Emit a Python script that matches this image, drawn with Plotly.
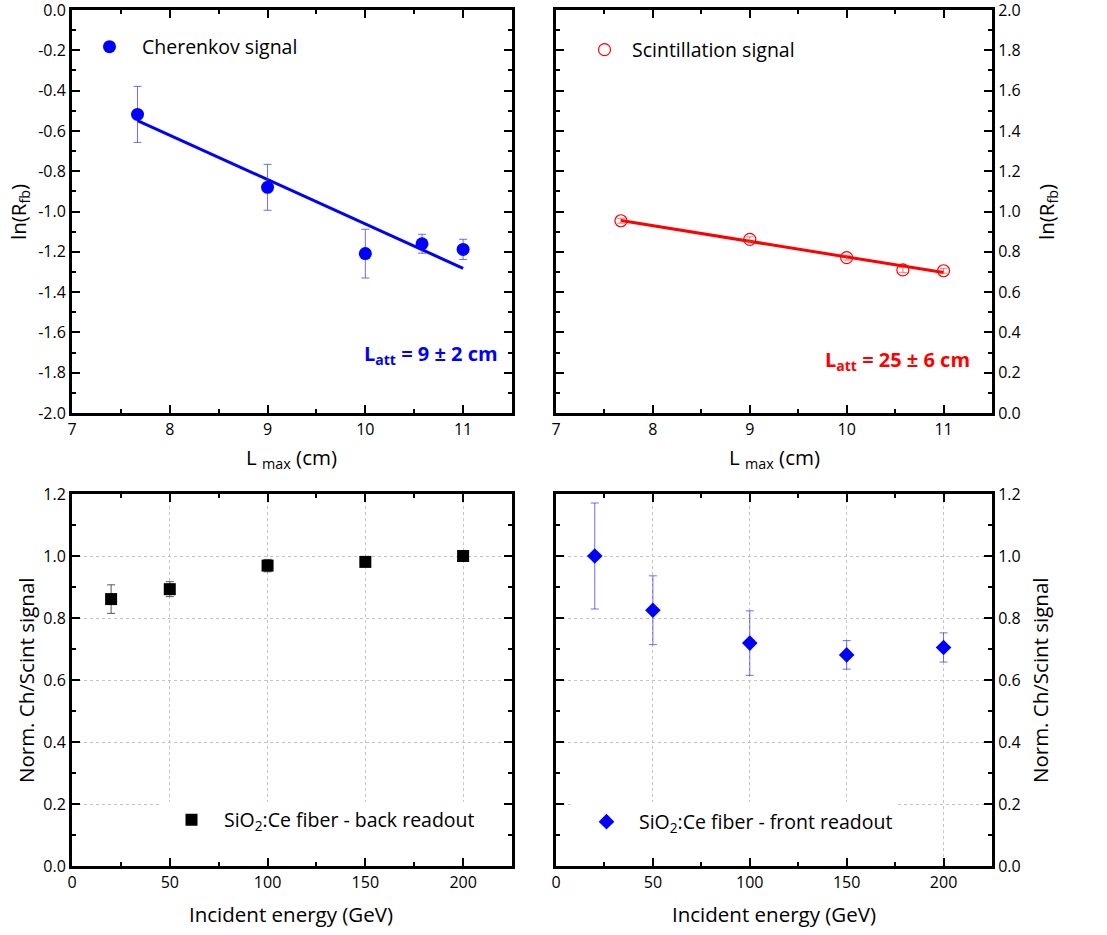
import plotly.graph_objects as go

# ---------------- data ----------------
# Top-left: Cherenkov signal
cher_L = [7.67, 9.0, 10.0, 10.58, 11.0]
cher_ln = [-0.518, -0.880, -1.209, -1.160, -1.188]
cher_err = [0.139, 0.114, 0.121, 0.047, 0.050]
cher_fit_L = [7.67, 11.0]
cher_fit_ln = [-0.549, -1.282]

# Top-right: Scintillation signal
scint_L = [7.67, 9.0, 10.0, 10.58, 11.0]
scint_ln = [0.954, 0.862, 0.771, 0.710, 0.706]
scint_err = [0.012, 0.012, 0.012, 0.012, 0.012]
scint_fit_L = [7.67, 11.0]
scint_fit_ln = [0.955, 0.697]

# Bottom: normalized Ch/Scint vs energy
energy = [20, 50, 100, 150, 200]
back_ratio = [0.861, 0.893, 0.969, 0.981, 1.000]
back_err = [0.046, 0.024, 0.020, 0.010, 0.008]
front_ratio = [1.000, 0.825, 0.719, 0.681, 0.705]
front_err = [0.171, 0.111, 0.104, 0.046, 0.047]

# tick labels
L_ticks = [7, 8, 9, 10, 11]
L_ticktext = ["7", "8", "9", "10", "11"]
lnL_vals = [0.0, -0.2, -0.4, -0.6, -0.8, -1.0, -1.2, -1.4, -1.6, -1.8, -2.0]
lnL_text = ["0.0", "-0.2", "-0.4", "-0.6", "-0.8", "-1.0", "-1.2", "-1.4", "-1.6", "-1.8", "-2.0"]
lnR_vals = [0.0, 0.2, 0.4, 0.6, 0.8, 1.0, 1.2, 1.4, 1.6, 1.8, 2.0]
lnR_text = ["0.0", "0.2", "0.4", "0.6", "0.8", "1.0", "1.2", "1.4", "1.6", "1.8", "2.0"]
E_ticks = [0, 50, 100, 150, 200]
E_ticktext = ["0", "50", "100", "150", "200"]
norm_vals = [0.0, 0.2, 0.4, 0.6, 0.8, 1.0, 1.2]
norm_text = ["0.0", "0.2", "0.4", "0.6", "0.8", "1.0", "1.2"]

FONT = "Open Sans"
W, H = 1107, 935

fig = go.Figure()

# Cherenkov
fig.add_trace(go.Scatter(
    x=cher_fit_L, y=cher_fit_ln, mode="lines", line=dict(color="#0000ff", width=3),
    showlegend=False, xaxis="x", yaxis="y"))
fig.add_trace(go.Scatter(
    x=cher_L, y=cher_ln, mode="markers", name="Cherenkov signal",
    marker=dict(symbol="circle", size=13, color="#0000ff"),
    error_y=dict(type="data", array=cher_err, color="rgba(60,60,255,0.75)", thickness=1, width=4),
    xaxis="x", yaxis="y", legend="legend"))

# Scintillation
fig.add_trace(go.Scatter(
    x=scint_fit_L, y=scint_fit_ln, mode="lines", line=dict(color="#ff0000", width=3),
    showlegend=False, xaxis="x2", yaxis="y2"))
fig.add_trace(go.Scatter(
    x=scint_L, y=scint_ln, mode="markers", name="Scintillation signal",
    marker=dict(symbol="circle-open", size=12, color="#ff0000", line=dict(width=1.2)),
    error_y=dict(type="data", array=scint_err, color="rgba(255,60,60,0.7)", thickness=1, width=4),
    xaxis="x2", yaxis="y2", legend="legend2"))

# Back readout
fig.add_trace(go.Scatter(
    x=energy, y=back_ratio, mode="markers", name="SiO<sub>2</sub>:Ce fiber - back readout",
    marker=dict(symbol="square", size=12, color="#000000"),
    error_y=dict(type="data", array=back_err, color="#555555", thickness=1, width=4),
    xaxis="x3", yaxis="y3", legend="legend3"))

# Front readout
fig.add_trace(go.Scatter(
    x=energy, y=front_ratio, mode="markers", name="SiO<sub>2</sub>:Ce fiber - front readout",
    marker=dict(symbol="diamond", size=12, color="#0000ff"),
    error_y=dict(type="data", array=front_err, color="rgba(60,60,255,0.75)", thickness=1, width=4),
    xaxis="x4", yaxis="y4", legend="legend4"))

# domains (pixel -> paper)
def px(x):
    return x / W

def py(y):
    return 1 - y / H

xl = [px(72), px(512)]
xr = [px(556), px(992)]
yt = [py(413), py(10)]
yb = [py(866), py(494)]

tickfont = dict(family=FONT, size=16, color="#000000")

def axis(domain, rng, tickvals, ticktext, dminor, anchor, side=None, grid=False):
    d = dict(
        domain=domain, range=rng, tickmode="array", tickvals=tickvals, ticktext=ticktext,
        ticks="inside", ticklen=8, tickwidth=2, tickcolor="#000000",
        showline=True, linecolor="#000000", linewidth=3, mirror="allticks",
        minor=dict(ticks="inside", ticklen=4, tickwidth=2, tickcolor="#000000", dtick=dminor,
                   tick0=0, showgrid=False),
        tickfont=tickfont, zeroline=False, anchor=anchor, fixedrange=True, automargin=False,
        ticklabeloverflow="allow",
        showgrid=grid, gridcolor="#c4c4c4", gridwidth=1, griddash="3px,3px",
    )
    if side:
        d["side"] = side
    return d

layout = dict(
    template="none",
    width=W, height=H, margin=dict(l=0, r=0, t=0, b=0, autoexpand=False),
    paper_bgcolor="white", plot_bgcolor="white",
    font=dict(family=FONT, color="#000000"),
    xaxis=axis(xl, [7, 11.5], L_ticks, L_ticktext, 0.5, "y"),
    yaxis=axis(yt, [-2.0, 0.0], lnL_vals, lnL_text, 0.1, "x"),
    xaxis2=axis(xr, [7, 11.5], L_ticks, L_ticktext, 0.5, "y2"),
    yaxis2=axis(yt, [0.0, 2.0], lnR_vals, lnR_text, 0.1, "x2", side="right"),
    xaxis3=axis(xl, [0, 225], E_ticks, E_ticktext, 25, "y3", grid=True),
    yaxis3=axis(yb, [0, 1.2], norm_vals, norm_text, 0.1, "x3", grid=True),
    xaxis4=axis(xr, [0, 225], E_ticks, E_ticktext, 25, "y4", grid=True),
    yaxis4=axis(yb, [0, 1.2], norm_vals, norm_text, 0.1, "x4", side="right", grid=True),
)

legfont = dict(family=FONT, size=19.5, color="#000000")
def leg(xp, yp, iw):
    return dict(x=px(xp), y=py(yp), xanchor="left", yanchor="middle", bgcolor="rgba(0,0,0,0)",
                borderwidth=0, font=legfont, itemwidth=iw, itemclick=False, itemdoubleclick=False)

layout["legend"] = leg(77, 47, 55)
layout["legend2"] = leg(577, 50, 45)
layout["legend3"] = leg(159, 820, 55)
layout["legend4"] = leg(574, 822, 55)

fig.update_layout(**layout)

# white boxes behind bottom legends (hide gridlines)
fig.add_shape(type="rect", xref="x3", yref="y3", x0=46, x1=223, y0=0.004, y1=0.207,
              fillcolor="white", line=dict(width=0), layer="between")
fig.add_shape(type="rect", xref="x4", yref="y4", x0=9, x1=175, y0=0.004, y1=0.207,
              fillcolor="white", line=dict(width=0), layer="between")

# attenuation annotations
fig.add_annotation(xref="x domain", yref="y domain", x=0.973, y=0.144, xanchor="right", yanchor="middle",
                   text="<b>L<sub>att</sub> = 9 ± 2 cm</b>", showarrow=False,
                   font=dict(family=FONT, size=20, color="#0000ff"))
fig.add_annotation(xref="x2 domain", yref="y2 domain", x=0.955, y=0.131, xanchor="right", yanchor="middle",
                   text="<b>L<sub>att</sub> = 25 ± 6 cm</b>", showarrow=False,
                   font=dict(family=FONT, size=20, color="#ff0000"))

# axis titles
tfont = dict(family=FONT, size=20.5, color="#000000")
def title(text, x, y, angle=0):
    fig.add_annotation(xref="paper", yref="paper", x=px(x), y=py(y), xanchor="center", yanchor="middle",
                       text=text, showarrow=False, textangle=angle, font=tfont)

title("L <sub>max</sub> (cm)", 292, 458)
title("L <sub>max</sub> (cm)", 774, 458)
title("Incident energy (GeV)", 291, 914)
title("Incident energy (GeV)", 774, 914)
title("ln(R<sub>fb</sub>)", 19, 212, -90)
title("ln(R<sub>fb</sub>)", 1047, 212, -90)
title("Norm. Ch/Scint signal", 26, 680, -90)
title("Norm. Ch/Scint signal", 1040, 680, -90)

fig.write_html("out.html")
